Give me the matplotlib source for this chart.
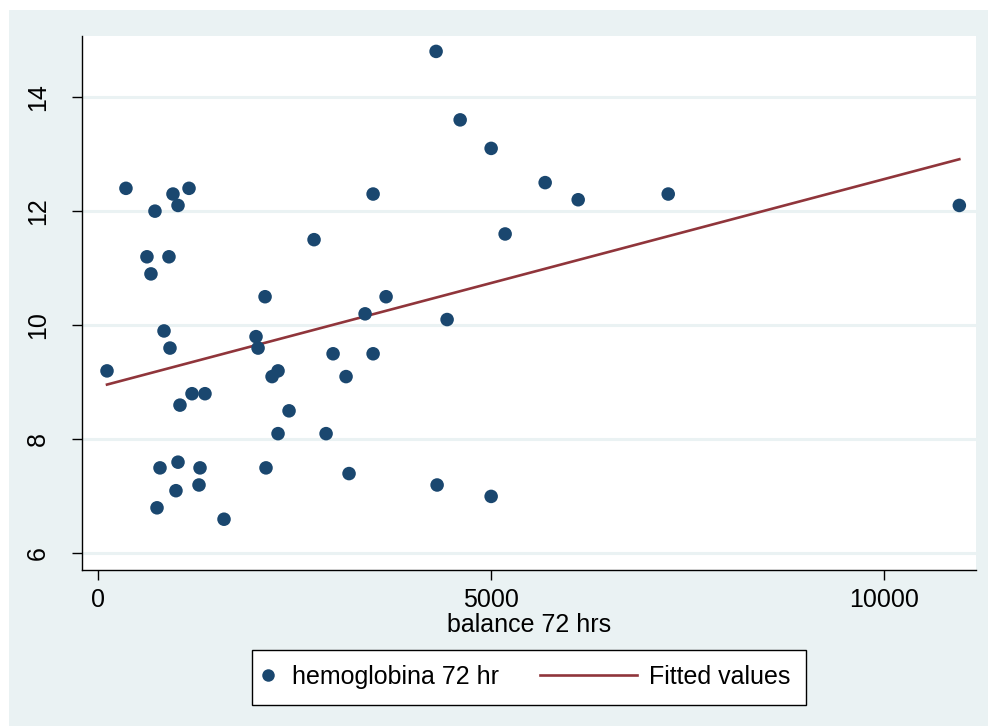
import numpy as np
import matplotlib
matplotlib.use("Agg")
import matplotlib.pyplot as plt
from matplotlib.patches import Rectangle
from matplotlib.lines import Line2D
from matplotlib.legend_handler import HandlerBase

balance = [115, 356, 725, 623, 674, 954, 1158, 1018, 903, 840, 916, 1043, 1196, 1361,
           789, 1018, 992, 1298, 1285, 751, 1603, 2010, 2036, 2125, 2214, 2290, 2430,
           2290, 2137, 2748, 2901, 2990, 3155, 3193, 3397, 3499, 3499, 3664, 4300,
           4606, 4440, 4313, 5000, 5178, 5000, 5687, 6107, 7252, 10954]
hemoglobina = [9.2, 12.4, 12.0, 11.2, 10.9, 12.3, 12.4, 12.1, 11.2, 9.9, 9.6, 8.6, 8.8, 8.8,
               7.5, 7.6, 7.1, 7.5, 7.2, 6.8, 6.6, 9.8, 9.6, 10.5, 9.1, 9.2, 8.5,
               8.1, 7.5, 11.5, 8.1, 9.5, 9.1, 7.4, 10.2, 12.3, 9.5, 10.5, 14.8,
               13.6, 10.1, 7.2, 13.1, 11.6, 7.0, 12.5, 12.2, 12.3, 12.1]
# fitted values at the smallest and largest balance
fitted_values = [8.96, 12.91]
x_ticks = [0, 5000, 10000]
y_ticks = [6, 8, 10, 12, 14]
x_label = "balance 72 hrs"
legend_labels = ["hemoglobina 72 hr", "Fitted values"]

BG = "#EAF2F3"
NAVY = "#1A476F"
MAROON = "#90353B"
FS = 18

plt.rcParams['font.family'] = ['Liberation Sans', 'DejaVu Sans']

fig = plt.figure(figsize=(9.88, 7.26), dpi=100)
fig.patch.set_facecolor("white")
fig.add_artist(Rectangle((9 / 988, 0), 1, (726 - 10) / 726, transform=fig.transFigure,
                         facecolor=BG, edgecolor="none", zorder=-10))

ax = fig.add_axes([82 / 988, (726 - 570) / 726, (976 - 82) / 988, (570 - 36) / 726])
ax.set_facecolor("white")

x = np.array(balance, dtype=float)
y = np.array(hemoglobina, dtype=float)
xf = np.array([x.min(), x.max()])

for t in y_ticks:
    ax.axhline(t, color=BG, lw=2.2, zorder=0)

ax.scatter(x, y, s=95, color=NAVY, edgecolors="none", zorder=3)
ax.plot(xf, fitted_values, color=MAROON, lw=1.9, zorder=2)

ax.set_xlim(-203, 11166)
ax.set_ylim(5.71, 15.07)
ax.set_xticks(x_ticks)
ax.set_xticklabels([str(v) for v in x_ticks])
ax.set_yticks(y_ticks)
ax.set_yticklabels([str(v) for v in y_ticks], rotation=90, va="center")
ax.tick_params(axis="both", direction="out", length=7, width=1, labelsize=FS, pad=6, colors="black")
ax.tick_params(axis="y", pad=16)
for side in ["top", "right"]:
    ax.spines[side].set_visible(False)
for side in ["left", "bottom"]:
    ax.spines[side].set_linewidth(1)
    ax.spines[side].set_color("black")

ax.set_xlabel(x_label, fontsize=FS, labelpad=1)


class MarkerLeft(HandlerBase):
    def create_artists(self, legend, orig_handle, xdescent, ydescent, width, height, fontsize, trans):
        yc = (height - ydescent) / 2.0
        m = Line2D([-xdescent], [yc], marker="o", ls="none", color=NAVY, markersize=9,
                   markeredgewidth=0)
        m.set_transform(trans)
        return [m]


class LongLine(HandlerBase):
    def create_artists(self, legend, orig_handle, xdescent, ydescent, width, height, fontsize, trans):
        yc = (height - ydescent) / 2.0
        x1 = -xdescent + width
        x0 = x1 - 3.87 * fontsize
        ln = Line2D([x0, x1], [yc, yc], color=MAROON, lw=1.9)
        ln.set_transform(trans)
        return [ln]


h1 = Line2D([], [], marker="o", ls="none", color=NAVY)
h2 = Line2D([], [], color=MAROON)
leg = fig.legend([h1, h2], legend_labels, loc="center", bbox_to_anchor=(529 / 988, 1 - 677 / 726),
                 ncol=2, fontsize=FS, frameon=True, fancybox=False, edgecolor="black",
                 facecolor="white", framealpha=1, handlelength=0.5, handletextpad=0.49,
                 columnspacing=5.0, borderpad=0.62,
                 handler_map={h1: MarkerLeft(), h2: LongLine()})
leg.get_frame().set_linewidth(1)

fig.savefig("out.png", dpi=100, facecolor=fig.get_facecolor())
